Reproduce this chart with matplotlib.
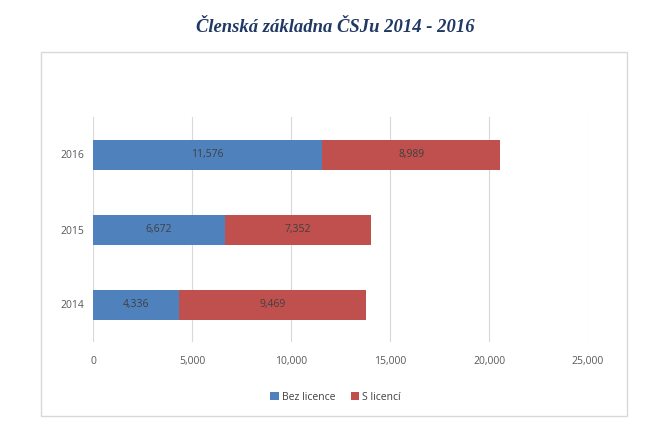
import matplotlib.pyplot as plt
from matplotlib.patches import Rectangle

years = ["2014", "2015", "2016"]
bez_licence = [4336, 6672, 11576]
s_licenci = [9469, 7352, 8989]
x_ticks = [0, 5000, 10000, 15000, 20000, 25000]

W, H = 671, 447
fig = plt.figure(figsize=(W / 100, H / 100), dpi=100)
plt.rcParams['font.family'] = ['Open Sans', 'DejaVu Sans']

# outer chart frame
fig.patches.append(Rectangle((41 / W, 1 - 416 / H), (627 - 41) / W, (416 - 52) / H,
                             transform=fig.transFigure, fill=False,
                             edgecolor='#d9d9d9', linewidth=1))

fig.text(0.5, 1 - 28 / H, "Členská základna ČSJu 2014 - 2016", ha='center', va='center',
         fontsize=13.4, fontweight='bold', fontstyle='italic', family='Liberation Serif',
         color='#1f3864')

ax = fig.add_axes([93 / W, 1 - 342 / H, (588 - 93) / W, (342 - 117) / H])
y = range(len(years))
b1 = ax.barh(y, bez_licence, height=0.4, color='#4f81bd', label='Bez licence')
b2 = ax.barh(y, s_licenci, left=bez_licence, height=0.4, color='#c0504d', label='S licencí')

for bars, vals, lefts in [(b1, bez_licence, [0, 0, 0]), (b2, s_licenci, bez_licence)]:
    for i, v in enumerate(vals):
        ax.text(lefts[i] + v / 2, i, f"{v:,}", ha='center', va='center',
                fontsize=7.5, color='#404040')

ax.set_xlim(0, 25000)
ax.set_ylim(-0.5, 2.5)
ax.set_xticks(x_ticks)
ax.set_xticklabels([f"{t:,}" for t in x_ticks])
ax.set_yticks(list(y))
ax.set_yticklabels(years)
ax.tick_params(length=0, labelsize=7.5, labelcolor='#595959')
ax.tick_params(axis='x', pad=10)
ax.tick_params(axis='y', pad=6)
ax.grid(axis='x', color='#d9d9d9', linewidth=0.8)
ax.set_axisbelow(True)
for s in ax.spines.values():
    s.set_visible(False)

fig.legend(handles=[b1, b2], loc='center', bbox_to_anchor=(0.5, 1 - 397 / H),
           ncol=2, frameon=False, fontsize=7.5, handlelength=0.8, handleheight=0.8,
           columnspacing=1.5, handletextpad=0.3, labelcolor='#404040')

fig.savefig("out.png", dpi=100)
